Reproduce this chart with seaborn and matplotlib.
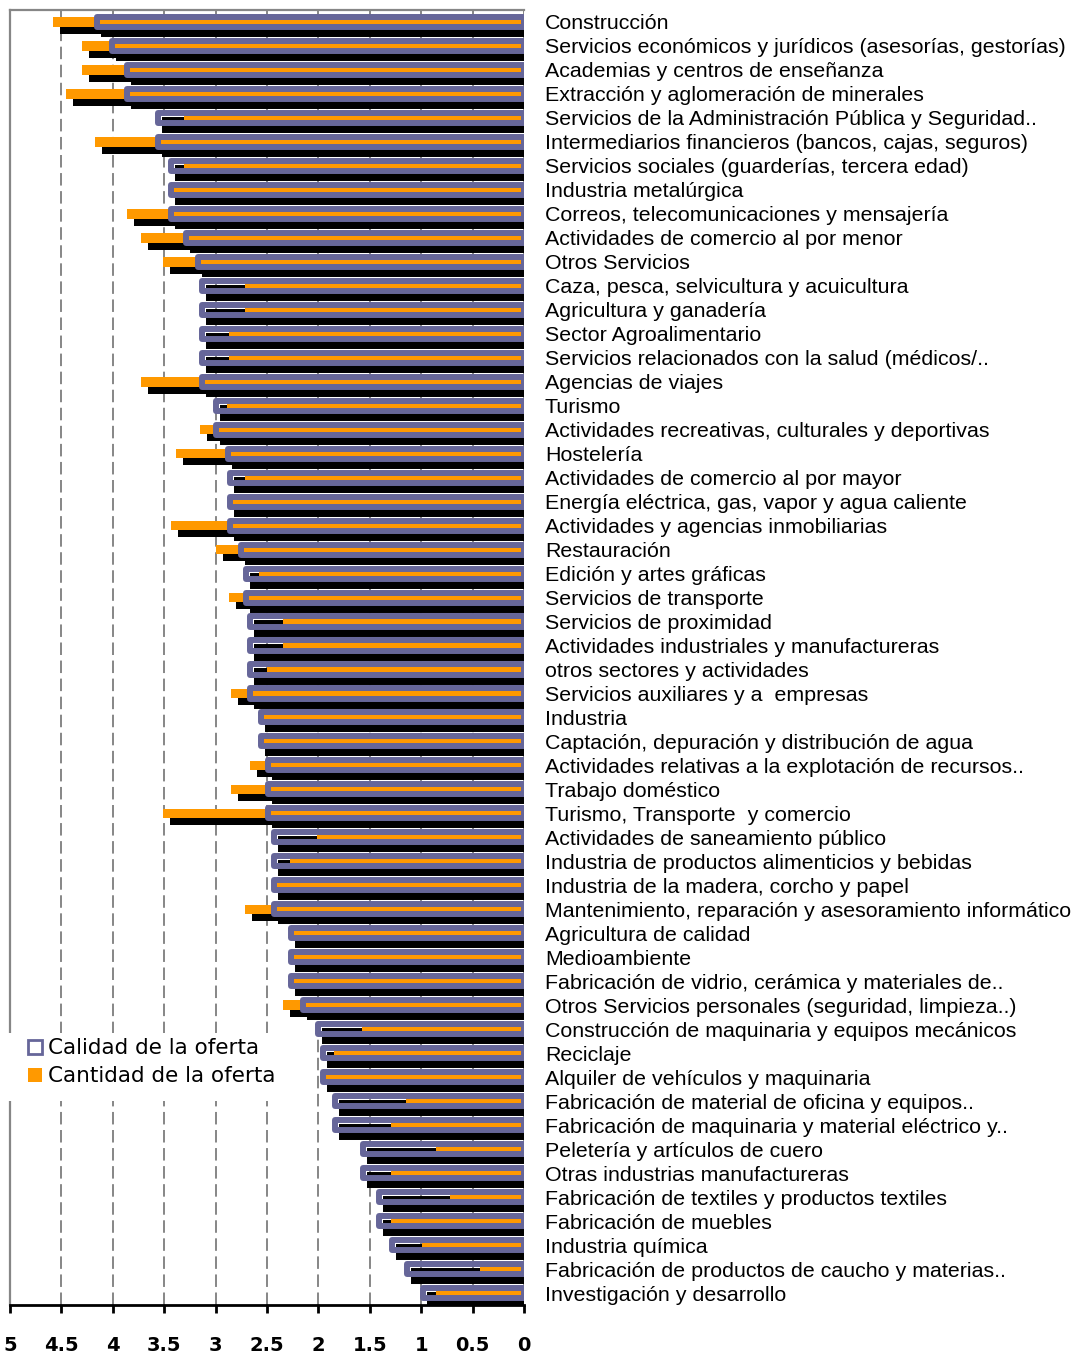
import numpy as np
import pandas as pd
import seaborn as sns
import matplotlib.pyplot as plt
from matplotlib.transforms import ScaledTranslation
from matplotlib.patches import Patch, Rectangle

categorias = [
    "Construcción",
    "Servicios económicos y jurídicos (asesorías, gestorías)",
    "Academias y centros de enseñanza",
    "Extracción y aglomeración de minerales",
    "Servicios de la Administración Pública y Seguridad..",
    "Intermediarios financieros (bancos, cajas, seguros)",
    "Servicios sociales (guarderías, tercera edad)",
    "Industria metalúrgica",
    "Correos, telecomunicaciones y mensajería",
    "Actividades de comercio al por menor",
    "Otros Servicios",
    "Caza, pesca, selvicultura y acuicultura",
    "Agricultura y ganadería",
    "Sector Agroalimentario",
    "Servicios relacionados con la salud (médicos/..",
    "Agencias de viajes",
    "Turismo",
    "Actividades recreativas, culturales y deportivas",
    "Hostelería",
    "Actividades de comercio al por mayor",
    "Energía eléctrica, gas, vapor y agua caliente",
    "Actividades y agencias inmobiliarias",
    "Restauración",
    "Edición y artes gráficas",
    "Servicios de transporte",
    "Servicios de proximidad",
    "Actividades industriales y manufactureras",
    "otros sectores y actividades",
    "Servicios auxiliares y a  empresas",
    "Industria",
    "Captación, depuración y distribución de agua",
    "Actividades relativas a la explotación de recursos..",
    "Trabajo doméstico",
    "Turismo, Transporte  y comercio",
    "Actividades de saneamiento público",
    "Industria de productos alimenticios y bebidas",
    "Industria de la madera, corcho y papel",
    "Mantenimiento, reparación y asesoramiento informático",
    "Agricultura de calidad",
    "Medioambiente",
    "Fabricación de vidrio, cerámica y materiales de..",
    "Otros Servicios personales (seguridad, limpieza..)",
    "Construcción de maquinaria y equipos mecánicos",
    "Reciclaje",
    "Alquiler de vehículos y maquinaria",
    "Fabricación de material de oficina y equipos..",
    "Fabricación de maquinaria y material eléctrico y..",
    "Peletería y artículos de cuero",
    "Otras industrias manufactureras",
    "Fabricación de textiles y productos textiles",
    "Fabricación de muebles",
    "Industria química",
    "Fabricación de productos de caucho y materias..",
    "Investigación y desarrollo",
]

calidad = [4.15, 4.01, 3.86, 3.86, 3.56, 3.56, 3.43, 3.43, 3.43, 3.29,
           3.17, 3.13, 3.13, 3.13, 3.13, 3.13, 3.00, 3.00, 2.88, 2.86,
           2.86, 2.86, 2.75, 2.70, 2.70, 2.67, 2.67, 2.67, 2.67, 2.56,
           2.56, 2.49, 2.49, 2.49, 2.43, 2.43, 2.43, 2.43, 2.27, 2.27,
           2.27, 2.15, 2.00, 1.96, 1.96, 1.84, 1.84, 1.57, 1.57, 1.41,
           1.41, 1.28, 1.14, 0.98]

cantidad = [4.58, 4.30, 4.30, 4.46, 3.31, 4.17, 3.31, 3.42, 3.86, 3.73,
            3.51, 2.71, 2.71, 2.87, 2.87, 3.73, 2.89, 3.15, 3.39, 2.71,
            2.84, 3.43, 3.00, 2.58, 2.87, 2.34, 2.34, 2.50, 2.85, 2.55,
            2.55, 2.67, 2.85, 3.51, 2.01, 2.28, 2.42, 2.71, 2.26, 2.26,
            2.26, 2.34, 1.58, 1.85, 1.95, 1.15, 1.29, 0.86, 1.29, 0.72,
            1.29, 0.99, 0.43, 0.86]

x_ticks = [0, 0.5, 1, 1.5, 2, 2.5, 3, 3.5, 4, 4.5, 5]
x_tick_labels = ["0", "0.5", "1", "1.5", "2", "2.5", "3", "3.5", "4", "4.5", "5"]

series_names = ["Calidad de la oferta", "Cantidad de la oferta"]

PURPLE = "#666699"
ORANGE = "#FF9900"
GRID = "#868686"

sns.set_theme(style="white")
plt.rcParams["font.family"] = ["DejaVu Sans"]
plt.rcParams["lines.scale_dashes"] = False
for k in ["text.color", "axes.labelcolor", "xtick.color", "ytick.color"]:
    plt.rcParams[k] = "black"

W, H = 1080, 1351
fig = plt.figure(figsize=(W / 100, H / 100), dpi=100)
ax = fig.add_axes([10 / W, 1 - 1305 / H, 514 / W, 1295 / H])

df = pd.DataFrame({"cat": categorias, "calidad": calidad, "cantidad": cantidad})

h_cal = 0.42
h_can = 0.40
lw_cal = 4.3  # points
shadow = ax.transData + ScaledTranslation(7 / 100, -7 / 100, fig.dpi_scale_trans)

# shadow of Calidad bars
n0 = len(ax.patches)
sns.barplot(data=df, x="calidad", y="cat", orient="h", color="black",
            saturation=1, width=h_cal, errorbar=None, ax=ax,
            linewidth=lw_cal, edgecolor="black")
for p in ax.patches[n0:]:
    p.set_transform(shadow)
    p.set_zorder(2)

# shadow of Cantidad bars
n0 = len(ax.patches)
sns.barplot(data=df, x="cantidad", y="cat", orient="h", color="black",
            saturation=1, width=h_can, errorbar=None, ax=ax, linewidth=0)
for p in ax.patches[n0:]:
    p.set_transform(shadow)
    p.set_zorder(2.1)

# Cantidad (orange)
n0 = len(ax.patches)
sns.barplot(data=df, x="cantidad", y="cat", orient="h", color=ORANGE,
            saturation=1, width=h_can, errorbar=None, ax=ax, linewidth=0)
for p in ax.patches[n0:]:
    p.set_zorder(2.2)

# Calidad (hollow, thick purple outline)
n0 = len(ax.patches)
sns.barplot(data=df, x="calidad", y="cat", orient="h", color=PURPLE,
            saturation=1, width=h_cal, errorbar=None, ax=ax)
for p in ax.patches[n0:]:
    p.set_facecolor("none")
    p.set_edgecolor(PURPLE)
    p.set_linewidth(lw_cal)
    p.set_joinstyle("round")
    p.set_zorder(2.3)

ax.set_xlim(5, 0)
ax.set_ylim(len(categorias) - 0.5, -0.5)
ax.set_xlabel("")
ax.set_ylabel("")

# grid
ax.set_axisbelow(True)
ax.grid(axis="x", color=GRID, linestyle=(0, (9, 4)), linewidth=1.4)
ax.grid(axis="y", visible=False)

ax.set_xticks(x_ticks)
ax.set_xticklabels(x_tick_labels, fontsize=14, fontweight="bold")
ax.tick_params(axis="x", direction="out", length=6, width=2, color="black",
               pad=16, bottom=True)

ax.yaxis.tick_right()
ax.tick_params(axis="y", length=0, pad=15)
for lab in ax.get_yticklabels():
    lab.set_fontfamily(["Liberation Sans", "DejaVu Sans"])
    lab.set_fontsize(15.4)
    lab.set_ha("left")

for s in ["top", "left"]:
    ax.spines[s].set_color(GRID)
    ax.spines[s].set_linewidth(1.6)
ax.spines["right"].set_visible(False)
ax.spines["bottom"].set_color("black")
ax.spines["bottom"].set_linewidth(2)

# white backdrop for legend (interrupts grid lines as in original)
ax.add_patch(Rectangle((4 / W, 1 - 1101 / H), 282 / W, 68 / H,
                       transform=fig.transFigure, facecolor="white",
                       edgecolor="none", zorder=3, clip_on=False))

handles = [Patch(facecolor="white", edgecolor=PURPLE, linewidth=2),
           Patch(facecolor=ORANGE, edgecolor=ORANGE, linewidth=0)]
leg = ax.legend(handles, series_names, loc="upper left",
                bbox_to_anchor=(24 / W, 1 - 1034 / H),
                bbox_transform=fig.transFigure, frameon=False,
                fontsize=15.5, handlelength=0.62, handleheight=0.62,
                handletextpad=0.3, labelspacing=0.38, borderpad=0.2,
                borderaxespad=0)
leg.set_zorder(5)

fig.savefig("out.png", dpi=100)
